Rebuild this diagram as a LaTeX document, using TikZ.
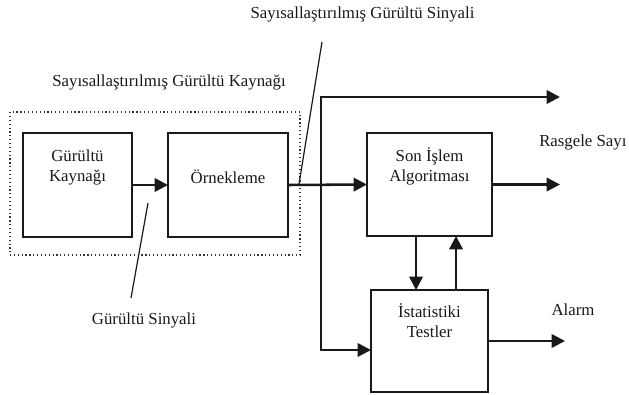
\documentclass[tikz,border=0pt]{standalone}
\usepackage{fontspec}
\setmainfont{Liberation Serif}
\usetikzlibrary{arrows.meta,calc}
\tikzset{
  box/.style={draw=black!90, line width=1.3pt, inner sep=0pt, outer sep=0pt, fill=white},
  arr/.style={line width=1.9pt, draw=black!90, -{Triangle[length=10pt,width=10pt]}},
  lead/.style={line width=0.9pt, draw=black!90},
  txt/.style={font=\fontsize{12.6}{15}\selectfont, text=black!90, inner sep=0pt, align=center},
  grp/.style={draw=black!80, line width=0.9pt, dotted}
}
\begin{document}
\begin{tikzpicture}[x=0.75pt,y=-0.75pt]
\useasboundingbox (0,0) rectangle (629,394);
% group
\node[grp, minimum width=290*0.75pt, minimum height=143*0.75pt, inner sep=0pt] (grp) at (155,183.5) {};
\node[txt] (tgrp) at (169,82) {Sayısallaştırılmış Gürültü Kaynağı};
% boxes
\node[box, minimum width=109*0.75pt, minimum height=104*0.75pt] (gk) at (77.5,185) {};
\node[box, minimum width=120*0.75pt, minimum height=104*0.75pt] (ork) at (228,185) {};
\node[box, minimum width=125*0.75pt, minimum height=103*0.75pt] (son) at (429.5,184.5) {};
\node[box, minimum width=117*0.75pt, minimum height=102*0.75pt] (ist) at (429.5,341) {};
% texts
\node[txt] (tgk) at (77.5,167) {Gürültü\\Kaynağı};
\node[txt] (tork) at (228,177) {Örnekleme};
\node[txt] (tson) at (429.5,166) {Son İşlem\\Algoritması};
\node[txt] (tist) at (429.5,321) {İstatistiki\\Testler};
\node[txt] (tsig) at (362.5,14) {Sayısallaştırılmış Gürültü Sinyali};
\node[txt, anchor=west] (trs) at (539,142) {Rasgele Sayı};
\node[txt] (tal) at (573,310) {Alarm};
\node[txt] (tgs) at (144,320) {Gürültü Sinyali};
% coordinates
\coordinate (j) at (321,185);
\coordinate (otop) at (560,97);
\coordinate (oson) at (560,184.5);
\coordinate (oal) at (565,341);
\coordinate (istin) at (371,350);
% connectors
\draw[arr] (gk.east) -- (ork.west);
\draw[arr] (ork.east) -- (son.west);
\draw[arr] (j) |- (otop);
\draw[arr] (j) |- (istin);
\draw[arr] (son.east) -- (oson);
\draw[arr] ([xshift=-10.1pt]son.south) -- ([xshift=-10.1pt]son.south |- ist.north);
\draw[arr] ([xshift=19.9pt]son.south |- ist.north) -- ([xshift=19.9pt]son.south);
\draw[arr] (ist.east) -- (oal);
% leader lines
\coordinate (l1a) at (322,42);
\coordinate (l1b) at (299,184);
\coordinate (l2a) at (148,203);
\coordinate (l2b) at (131,298);
\draw[lead] (l1a) -- (l1b);
\draw[lead] (l2a) -- (l2b);
\end{tikzpicture}
\end{document}
